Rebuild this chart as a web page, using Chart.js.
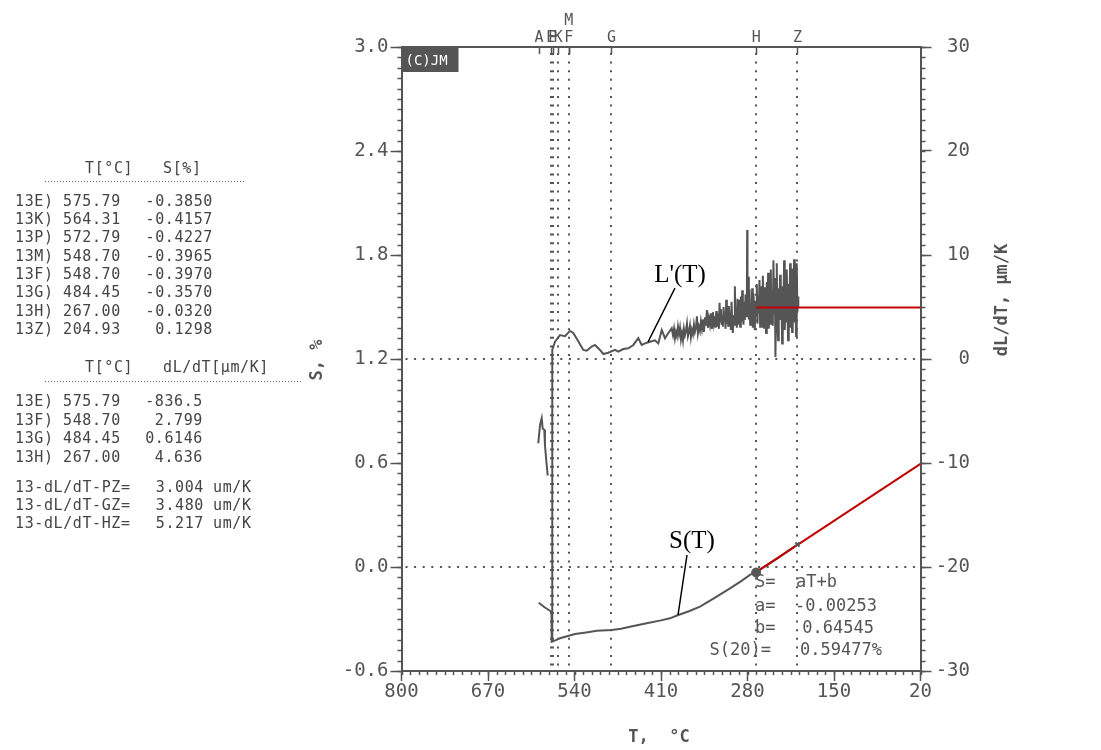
<!DOCTYPE html>
<html>
<head>
<meta charset="utf-8">
<script src="https://cdn.jsdelivr.net/npm/chart.js@4.4.1/dist/chart.umd.min.js"></script>
<style>
html, body { margin: 0; padding: 0; background: #fff; }
#wrap { width: 1101px; height: 750px; }
</style>
</head>
<body>
<div id="wrap"><canvas id="chart" width="1101" height="750"></canvas></div>
<script>
const MONO = '"DejaVu Sans Mono", monospace';
const GRAY = '#555';

// S(T), %  (left axis)
const sT = [593.7, 585, 574.6, 574.3, 568, 561.8, 550, 539.3, 520, 506.7, 484.1, 470, 456.6, 431.5, 410,
  396.5, 384, 368, 351.4, 330, 306.3, 290, 276.3, 267, 250, 235, 220, 205];
const sS = [-0.206, -0.232, -0.258, -0.431, -0.422, -0.411, -0.398, -0.387, -0.376, -0.368, -0.364, -0.356,
  -0.345, -0.325, -0.308, -0.296, -0.277, -0.255, -0.229, -0.180, -0.123, -0.083, -0.046, -0.027,
  0.012, 0.050, 0.090, 0.130];

// L'(T) = dL/dT, um/K  (right axis)
const lEarlyT = [594.4, 591.8, 589.3, 587.8, 585.4, 584.4, 581.8, 580.3];
const lEarlyV = [-8.1, -6.35, -5.7, -6.7, -6.8, -8.3, -10.2, -11.2];

const lT = [573.6, 573.4, 569.3, 561.8, 554.3, 546.8, 541.8, 534.3, 526.8, 521.7, 514.1, 509.2, 501.7, 496.7,
  489.2, 479.1, 474.2, 466.7, 459.1, 451.6, 444.1, 439, 434, 426.5, 419, 414.1, 408.9, 404, 399, 393.9,
  392, 390.5, 389, 387.5, 386, 384.5, 383, 381.5, 380, 378.5, 377, 375.5, 374, 372.5, 371, 369.5, 368,
  366.5, 365, 363.5, 362, 360.5, 359, 357.5, 356, 354.5, 353, 351.5, 350, 348.5, 347, 345.5, 344,
  342.5, 341, 339.5, 338, 336.5, 335, 333.5, 332, 330.5,
  329, 328, 327, 326, 325, 324, 323, 322, 321, 320, 319, 318, 317, 316, 315, 314, 313, 312, 311, 310,
  309, 308, 307, 306, 305, 304, 303, 302, 301, 300, 299, 298, 297, 296, 295, 294, 293, 292, 291, 290,
  289, 288, 287, 286, 285, 284, 283, 282, 281, 280.5, 280, 279, 278, 277, 276, 275, 274, 273, 272, 271,
  270, 269, 268, 267, 266, 265, 264, 263, 262, 261, 260, 259, 258, 257, 256, 255, 254, 253, 252, 251,
  250, 249, 248, 247, 246, 245, 244, 243, 242, 241, 240, 239, 238, 237, 236, 235, 234, 233, 232, 231,
  230, 229, 228, 227, 226, 225, 224, 223, 222, 221, 220, 219, 218, 217, 216, 215, 214, 213, 212, 211,
  210, 209, 208, 207, 206, 205, 204, 203.6];
const lV = [-27.1, 0.9, 1.66, 2.3, 2.2, 2.7, 2.5, 1.7, 0.87, 0.8, 1.2, 1.35, 0.87, 0.48,
  0.6, 0.87, 0.7, 0.96, 1.03, 1.35, 2.0, 1.35, 1.5, 1.66, 1.8, 1.5, 2.8, 2.0, 2.5, 2.95,
  2.3, 2.9, 2.0, 2.6, 2.2, 3.1, 2.4, 3.0, 1.9, 2.5, 1.8, 2.9, 2.3, 2.7, 3.4, 2.2, 2.6,
  3.2, 2.1, 2.8, 2.4, 3.3, 2.6, 3.0, 4.1, 2.5, 3.1, 2.7, 3.6, 2.9, 3.8, 2.6, 4.0,
  3.2, 4.7, 3.0, 3.9, 3.3, 4.4, 2.9, 4.5, 3.4,
  4.1, 3.0, 4.6, 3.1, 3.8, 4.4, 2.9, 5.4, 3.6, 4.8, 3.3, 4.1, 3.1, 5.0, 3.7, 4.4, 2.9, 5.7, 3.4, 4.6,
  3.2, 5.1, 3.75, 4.3, 2.8, 5.5, 3.6, 2.5, 4.2, 3.3, 7.0, 3.5, 4.9, 3.0, 5.8, 3.4, 4.5, 5.7, 3.1, 6.0,
  3.6, 6.6, 4.0, 3.3, 5.5, 3.75, 6.2, 4.1, 5.0, 12.4, 4.5, 7.9, 3.8, 6.7, 3.3, 5.4, 4.1, 6.8, 3.0, 6.3,
  3.9, 2.8, 5.6, 4.2, 7.2, 3.4, 6.0, 4.4, 7.6, 3.1, 7.0, 4.6, 3.1, 8.0, 5.7, 3.0, 6.9, 3.6, 2.5, 7.4,
  4.3, 8.3, 2.9, 7.1, 3.4, 8.6, 4.0, 6.5, 3.2, 9.5, 4.4, 7.8, 0.2, 5.2, 9.2, 3.3, 1.8, 6.8, 4.6, 8.1,
  3.75, 6.2, 1.5, 7.0, 4.8, 9.5, 2.8, 6.0, 3.6, 8.6, 5.1, 1.8, 7.2, 4.0, 9.2, 3.0, 6.5, 2.6, 8.7, 4.9,
  9.6, 3.5, 6.3, 2.2, 9.2, 4.5, 6.0, 5.0];

// linear fit S = aT + b from H, and mean dL/dT H-Z
const fitT = [267, 20];
const fitS = [-0.030, 0.595];
const fitL = [4.95, 4.95];
const hT = [267.00], hS = [-0.032];
const zT = [204.93], zS = [0.1298];

// characteristic points
const markNames = ['A', 'E', 'P', 'K', 'M', 'F', 'G', 'H', 'Z'];
const markT = [593.4, 575.79, 572.79, 564.31, 548.70, 548.70, 484.45, 267.00, 204.93];
const markRaised = [false, false, false, false, true, false, false, false, false];
const markDotted = [false, true, true, true, false, true, true, true, true];

// table text
const tabRows = ['13E)', '13K)', '13P)', '13M)', '13F)', '13G)', '13H)', '13Z)'];
const tabT = ['575.79', '564.31', '572.79', '548.70', '548.70', '484.45', '267.00', '204.93'];
const tabS = ['-0.3850', '-0.4157', '-0.4227', '-0.3965', '-0.3970', '-0.3570', '-0.0320', '0.1298'];
const tabLRows = ['13E)', '13F)', '13G)', '13H)'];
const tabLT = ['575.79', '548.70', '484.45', '267.00'];
const tabLV = ['-836.5', '2.799', '0.6146', '4.636'];
const slopeNames = ['13-dL/dT-PZ=', '13-dL/dT-GZ=', '13-dL/dT-HZ='];
const slopeVals = ['3.004', '3.480', '5.217'];

const fitLabels = ['S=  aT+b', 'a=', 'b=', 'S(20)='];
const fitValues = ['', '-0.00253', '0.64545', '0.59477%'];

const pts = (xs, ys) => xs.map((v, i) => ({ x: v, y: ys[i] }));

function line(ctx, x1, y1, x2, y2) {
  ctx.beginPath();
  ctx.moveTo(x1, y1);
  ctx.lineTo(x2, y2);
  ctx.stroke();
}

const decor = {
  id: 'decor',
  beforeDatasetsDraw(chart) {
    const { ctx, chartArea: a, scales: { x, y, y2 } } = chart;
    ctx.save();
    ctx.strokeStyle = GRAY;
    // dotted reference lines
    ctx.lineWidth = 2;
    ctx.setLineDash([2, 6.6]);
    markT.forEach((t, i) => {
      if (!markDotted[i]) return;
      const px = Math.round(x.getPixelForValue(t));
      line(ctx, px, a.top + 6, px, a.bottom);
    });
    [1.2, 0.0].forEach(v => {
      const py = Math.round(y.getPixelForValue(v));
      line(ctx, a.left + 4, py, a.right, py);
    });
    ctx.setLineDash([]);
    // top frame and marker ticks
    ctx.lineWidth = 2;
    line(ctx, a.left, Math.round(a.top), a.right, Math.round(a.top));
    ctx.lineWidth = 1.5;
    markT.forEach(t => {
      const px = Math.round(x.getPixelForValue(t)) + 0.5;
      line(ctx, px, a.top, px, a.top + 7);
    });
    // minor ticks
    for (let i = 0; i <= 60; i++) {
      const py = Math.round(y.getPixelForValue(-0.6 + i * 0.06)) + 0.5;
      line(ctx, a.left - 4, py, a.left, py);
    }
    for (let i = 0; i <= 60; i++) {
      const py = Math.round(y2.getPixelForValue(-30 + i)) + 0.5;
      line(ctx, a.right, py, a.right + 5, py);
    }
    for (let i = 0; i <= 60; i++) {
      const px = Math.round(x.getPixelForValue(20 + i * 13)) + 0.5;
      line(ctx, px, a.bottom, px, a.bottom + 4);
    }
    ctx.restore();
  },
  afterDatasetsDraw(chart) {
    const { ctx, chartArea: a, scales: { x, y } } = chart;
    ctx.save();
    ctx.fillStyle = GRAY;
    ctx.textBaseline = 'middle';

    // marker letters on top
    ctx.font = '15px ' + MONO;
    ctx.textAlign = 'center';
    markNames.forEach((n, i) => {
      ctx.fillText(n, x.getPixelForValue(markT[i]), markRaised[i] ? 21 : 38);
    });

    // (C)JM box
    ctx.fillStyle = GRAY;
    ctx.fillRect(a.left + 1, a.top + 1, 56, 24);
    ctx.fillStyle = '#fff';
    ctx.font = '14px ' + MONO;
    ctx.textAlign = 'left';
    ctx.fillText('(C)JM', a.left + 4, a.top + 14);

    // fit annotation
    ctx.fillStyle = GRAY;
    ctx.font = '17px ' + MONO;
    const annY = [583, 607, 629, 651];
    fitLabels.forEach((t, i) => {
      if (i < 3) { ctx.textAlign = 'left'; ctx.fillText(t, 755, annY[i]); }
      else { ctx.textAlign = 'right'; ctx.fillText(t, 771, annY[i]); }
    });
    ctx.textAlign = 'left';
    ctx.fillText(fitValues[1], 795, annY[1]);
    ctx.textAlign = 'right';
    ctx.fillText(fitValues[2], 874, annY[2]);
    ctx.textAlign = 'left';
    ctx.fillText(fitValues[3], 800, annY[3]);

    // curve labels
    ctx.font = '25px "Liberation Serif", serif';
    ctx.textAlign = 'center';
    [["L'(T)", 680, 274], ['S(T)', 692, 540]].forEach(([t, cx, cy]) => {
      const w = ctx.measureText(t).width;
      ctx.fillStyle = '#fff';
      ctx.fillRect(cx - w / 2 - 3, cy - 13, w + 6, 27);
      ctx.fillStyle = '#000';
      ctx.fillText(t, cx, cy + 1);
    });
    ctx.strokeStyle = '#000';
    ctx.lineWidth = 1.5;
    line(ctx, 675, 288, 648, 342);
    line(ctx, 687, 555, 678, 615);

    // axis titles
    ctx.fillStyle = GRAY;
    ctx.font = 'bold 17px ' + MONO;
    ctx.textAlign = 'center';
    ctx.fillText('T,  \u00b0C', 659, 738);
    ctx.save();
    ctx.translate(318, 360);
    ctx.rotate(-Math.PI / 2);
    ctx.fillText('S, %', 0, 0);
    ctx.restore();
    ctx.save();
    ctx.translate(1003, 300);
    ctx.rotate(-Math.PI / 2);
    ctx.fillText('dL/dT, \u03bcm/K', 0, 0);
    ctx.restore();

    // left result tables
    ctx.font = '15px ' + MONO;
    ctx.letterSpacing = '0.6px';
    ctx.fillStyle = '#444';
    ctx.textAlign = 'left';
    ctx.fillText('T[\u00b0C]', 85, 169);
    ctx.fillText('S[%]', 163, 169);
    tabRows.forEach((r, i) => {
      const yy = 202 + i * 18.3;
      ctx.textAlign = 'left';
      ctx.fillText(r, 15, yy);
      ctx.fillText(tabT[i], 63, yy);
      ctx.textAlign = 'right';
      ctx.fillText(tabS[i], 213, yy);
    });
    ctx.textAlign = 'left';
    ctx.fillText('T[\u00b0C]', 85, 368);
    ctx.fillText('dL/dT[\u03bcm/K]', 163, 368);
    tabLRows.forEach((r, i) => {
      const yy = 402 + i * 18.8;
      ctx.textAlign = 'left';
      ctx.fillText(r, 15, yy);
      ctx.fillText(tabLT[i], 63, yy);
      ctx.textAlign = 'right';
      ctx.fillText(tabLV[i], 203, yy);
    });
    slopeNames.forEach((r, i) => {
      const yy = 488 + i * 18;
      ctx.textAlign = 'left';
      ctx.fillText(r, 15, yy);
      ctx.fillText('um/K', 213, yy);
      ctx.textAlign = 'right';
      ctx.fillText(slopeVals[i], 204, yy);
    });
    ctx.letterSpacing = '0px';
    // dotted separators
    ctx.strokeStyle = '#666';
    ctx.lineWidth = 1;
    ctx.setLineDash([1, 2]);
    line(ctx, 45, 181.5, 246, 181.5);
    line(ctx, 45, 381.5, 302, 381.5);
    ctx.restore();
  }
};

const tickFont = { family: '"DejaVu Sans Mono", monospace', size: 19 };

const chart = new Chart(document.getElementById('chart').getContext('2d'), {
  type: 'scatter',
  data: {
    datasets: [
      { data: pts(hT, hS), yAxisID: 'y', pointRadius: 4.5, backgroundColor: GRAY, borderColor: GRAY, showLine: false, order: 0 },
      { data: pts(zT, zS), yAxisID: 'y', pointStyle: 'crossRot', pointRadius: 3, borderWidth: 2, borderColor: GRAY, showLine: false, order: 0 },
      { data: pts(fitT, fitS), yAxisID: 'y', borderColor: '#c00000', borderWidth: 2, showLine: true, pointRadius: 0, order: 1 },
      { data: pts(fitT, fitL), yAxisID: 'y2', borderColor: '#c00000', borderWidth: 2, showLine: true, pointRadius: 0, order: 1 },
      { data: pts(sT, sS), yAxisID: 'y', borderColor: GRAY, borderWidth: 2, showLine: true, pointRadius: 0, order: 2 },
      { data: pts(lEarlyT, lEarlyV), yAxisID: 'y2', borderColor: GRAY, borderWidth: 2, showLine: true, pointRadius: 0, order: 2 },
      { data: pts(lT, lV), yAxisID: 'y2', borderColor: GRAY, borderWidth: 2, showLine: true, pointRadius: 0, order: 2 }
    ]
  },
  options: {
    responsive: false,
    animation: false,
    layout: { padding: { left: 0, right: 131, top: 47, bottom: 0 } },
    plugins: { legend: { display: false }, tooltip: { enabled: false } },
    scales: {
      x: {
        type: 'linear',
        position: 'bottom',
        min: 20,
        max: 800,
        reverse: true,
        afterFit: s => { s.height = 79; },
        ticks: { stepSize: 130, font: tickFont, color: GRAY, padding: 0, maxRotation: 0 },
        grid: { drawOnChartArea: false, tickLength: 10, tickColor: GRAY, tickWidth: 1.5 },
        border: { color: GRAY, width: 2 }
      },
      y: {
        position: 'left',
        min: -0.6,
        max: 3.0,
        afterFit: s => { s.width = 401.5; },
        ticks: { stepSize: 0.6, font: tickFont, color: GRAY, padding: 2, callback: v => v.toFixed(1) },
        grid: { drawOnChartArea: false, tickLength: 11, tickColor: GRAY, tickWidth: 1.5 },
        border: { color: GRAY, width: 2 }
      },
      y2: {
        position: 'right',
        min: -30,
        max: 30,
        afterFit: s => { s.width = 49.5; },
        ticks: { stepSize: 10, font: tickFont, color: GRAY, padding: 4, crossAlign: 'far' },
        grid: { drawOnChartArea: false, tickLength: 11, tickColor: GRAY, tickWidth: 1.5 },
        border: { color: GRAY, width: 2 }
      }
    }
  },
  plugins: [decor]
});
</script>
</body>
</html>
